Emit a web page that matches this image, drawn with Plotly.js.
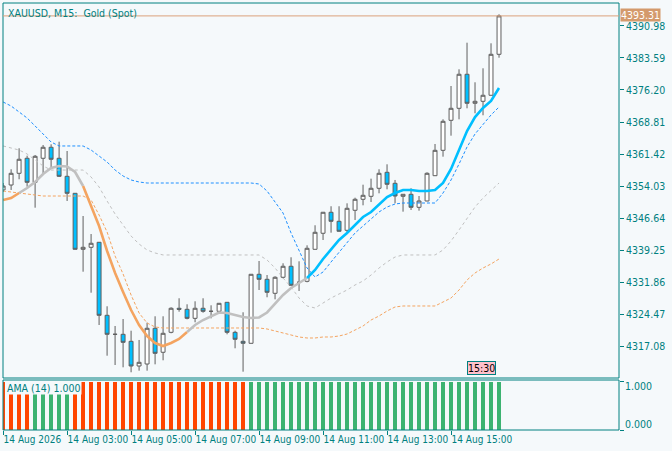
<!DOCTYPE html>
<html>
<head>
<meta charset="utf-8">
<script src="https://cdn.plot.ly/plotly-3.0.1.min.js"></script>
<style>
  html, body { margin: 0; padding: 0; background: #f5f9fb; }
  #chart { width: 672px; height: 451px; }
</style>
</head>
<body>
<div id="chart"></div>
<script>
// XAUUSD M15 bars, 14 Aug 2026 from 01:00
var firstBarMinutes = 60;   // 01:00
var barMinutes = 15;

var openPrices = [
	4353.11, 4354.26, 4356.96, 4360.43, 4354.88, 4360.43, 4362.97, 4360.43, 4356.27, 4352.34,
	4339.41, 4339.87, 4341.03, 4324.17, 4319.78, 4319.78, 4318.16, 4312.46, 4312.92, 4321.17,
	4315.63, 4320.24, 4325.79, 4325.55, 4323.47, 4325.79, 4325.09, 4325.09, 4327.17, 4320.24,
	4318.16, 4317.70, 4333.64, 4332.48, 4329.25, 4332.95, 4335.49, 4331.79, 4332.02, 4339.41,
	4343.11, 4347.96, 4345.88, 4343.80, 4348.42, 4350.96, 4351.65, 4353.50, 4357.19, 4354.65,
	4351.65, 4352.11, 4349.11, 4350.57, 4356.41, 4362.27, 4369.20, 4371.97, 4379.83, 4373.13,
	4373.59, 4374.98, 4384.44];
var highPrices = [
	4354.72, 4357.89, 4362.74, 4361.03, 4361.19, 4363.50, 4363.66, 4364.26, 4362.11, 4352.41,
	4347.10, 4342.94, 4341.10, 4326.25, 4321.70, 4323.31, 4320.61, 4318.47, 4322.46, 4323.94,
	4323.94, 4326.02, 4328.10, 4326.71, 4327.40, 4328.10, 4326.48, 4327.01, 4327.24, 4320.61,
	4324.87, 4333.71, 4336.71, 4333.47, 4333.18, 4336.18, 4337.57, 4336.64, 4340.33, 4344.96,
	4348.03, 4349.35, 4349.35, 4350.03, 4351.33, 4354.33, 4355.72, 4357.89, 4359.04, 4355.42,
	4352.18, 4353.50, 4351.72, 4357.19, 4363.73, 4369.43, 4377.12, 4380.98, 4387.12, 4377.98,
	4381.21, 4386.98, 4393.68];
var lowPrices = [
	4352.64, 4353.11, 4355.58, 4353.87, 4349.02, 4356.57, 4358.35, 4356.11, 4350.57, 4339.37,
	4334.24, 4329.39, 4321.93, 4314.84, 4312.69, 4312.16, 4311.01, 4311.38, 4311.38, 4312.85,
	4313.78, 4320.01, 4325.00, 4323.24, 4322.55, 4324.77, 4323.47, 4325.05, 4319.78, 4316.55,
	4311.15, 4317.66, 4330.01, 4328.33, 4327.86, 4332.71, 4331.05, 4329.78, 4331.79, 4339.37,
	4341.56, 4343.25, 4343.52, 4343.11, 4346.18, 4349.57, 4350.33, 4352.34, 4353.27, 4350.03,
	4348.10, 4348.49, 4348.33, 4350.50, 4356.34, 4360.80, 4365.65, 4369.43, 4371.97, 4370.82,
	4370.36, 4374.93, 4383.66];
var closePrices = [
	4354.03, 4356.96, 4360.20, 4354.88, 4360.89, 4362.97, 4360.20, 4356.27, 4352.34, 4339.41,
	4339.87, 4340.80, 4324.17, 4319.78, 4319.78, 4317.93, 4312.46, 4313.31, 4321.17, 4315.39,
	4320.01, 4325.79, 4325.55, 4323.47, 4325.79, 4325.09, 4325.09, 4326.94, 4320.24, 4318.63,
	4317.70, 4333.64, 4332.48, 4329.48, 4332.95, 4335.49, 4331.10, 4331.79, 4339.64, 4343.34,
	4347.96, 4345.88, 4343.57, 4348.88, 4350.96, 4351.88, 4353.50, 4356.96, 4354.42, 4351.72,
	4352.11, 4349.11, 4350.57, 4356.96, 4362.27, 4368.97, 4371.97, 4379.83, 4373.13, 4373.59,
	4374.98, 4384.44, 4393.31];

// adaptive moving average and its three envelope lines
var amaLine = [
	4350.80, 4351.26, 4352.41, 4353.57, 4354.95, 4356.80, 4358.19, 4358.65, 4358.53, 4357.26,
	4354.03, 4349.41, 4344.79, 4339.02, 4333.94, 4329.55, 4325.39, 4321.93, 4319.39, 4317.77,
	4317.08, 4317.77, 4318.70, 4320.31, 4321.93, 4323.08, 4324.01, 4324.82, 4324.70, 4324.24,
	4323.78, 4323.55, 4323.67, 4324.82, 4326.78, 4328.86, 4330.47, 4331.63, 4332.78, 4334.63,
	4337.17, 4339.48, 4341.56, 4343.18, 4345.02, 4346.87, 4348.03, 4349.87, 4351.49, 4352.41,
	4353.11, 4353.11, 4352.87, 4352.87, 4353.11, 4354.72, 4357.96, 4362.34, 4366.73, 4369.96,
	4372.04, 4373.66, 4376.66];
// -1 falling, 0 flat, 1 rising (colour of the segment to the next bar)
var amaTrend = [
	-1, -1, 0, 0, 0, 0, 0, 0, 0, 0,
	-1, -1, -1, -1, -1, -1, -1, -1, -1, -1,
	-1, -1, -1, 0, 0, 0, 0, 0, 0, 0,
	0, 0, 0, 0, 0, 0, 0, 0, 1, 1,
	1, 1, 1, 1, 1, 1, 1, 1, 1, 1,
	1, 1, 1, 1, 1, 1, 1, 1, 1, 1,
	1, 1, 1];
var blueBand = [
	4373.43, 4372.50, 4371.12, 4369.73, 4367.89, 4366.04, 4364.19, 4363.27, 4363.27, 4363.27,
	4363.27, 4362.34, 4360.96, 4359.57, 4357.72, 4356.34, 4355.42, 4354.95, 4354.72, 4354.72,
	4354.72, 4354.72, 4354.72, 4354.72, 4354.72, 4354.72, 4354.72, 4354.72, 4354.72, 4354.72,
	4354.72, 4354.72, 4354.49, 4352.87, 4350.33, 4347.79, 4343.18, 4339.02, 4335.09, 4333.01,
	4334.17, 4336.48, 4338.79, 4341.10, 4343.18, 4344.79, 4346.41, 4348.03, 4349.18, 4349.87,
	4350.10, 4350.10, 4350.10, 4350.10, 4350.10, 4352.41, 4355.42, 4359.11, 4363.04, 4366.04,
	4368.35, 4370.43, 4372.27];
var greyBand = [
	4363.27, 4362.80, 4362.34, 4361.42, 4360.03, 4358.65, 4357.72, 4357.72, 4357.72, 4357.72,
	4357.72, 4356.11, 4353.80, 4350.57, 4347.56, 4345.02, 4342.48, 4340.63, 4339.25, 4338.56,
	4338.10, 4338.10, 4338.10, 4338.10, 4338.10, 4338.10, 4338.10, 4338.10, 4338.10, 4338.10,
	4338.10, 4338.10, 4338.10, 4336.94, 4335.09, 4332.78, 4330.70, 4328.16, 4326.32, 4325.85,
	4327.01, 4328.16, 4329.09, 4330.01, 4331.17, 4332.09, 4333.47, 4335.09, 4336.48, 4337.63,
	4338.10, 4338.10, 4338.10, 4338.10, 4338.10, 4339.25, 4341.33, 4343.87, 4346.64, 4349.18,
	4351.26, 4353.11, 4354.72];
var orangeBand = [
	4352.87, 4352.64, 4352.41, 4352.18, 4351.95, 4351.72, 4351.72, 4351.72, 4351.72, 4351.72,
	4351.72, 4350.80, 4347.33, 4343.41, 4337.86, 4333.71, 4328.86, 4324.70, 4322.39, 4321.47,
	4321.24, 4321.24, 4321.24, 4321.24, 4321.24, 4321.24, 4321.24, 4321.24, 4321.24, 4321.24,
	4321.24, 4321.24, 4321.24, 4321.01, 4320.54, 4320.08, 4319.62, 4319.16, 4318.93, 4318.93,
	4319.16, 4319.16, 4319.39, 4319.85, 4320.77, 4321.70, 4323.08, 4324.01, 4325.16, 4326.09,
	4326.32, 4326.32, 4326.32, 4326.32, 4326.32, 4327.24, 4328.16, 4330.01, 4332.32, 4333.94,
	4335.09, 4336.02, 4337.17];

// lower window: AMA (14) histogram
var amaHist = [
	1, 1, 1, 1, 1, 1, 1, 1, 1, 1,
	1, 1, 1, 1, 1, 1, 1, 1, 1, 1,
	1, 1, 1, 1, 1, 1, 1, 1, 1, 1,
	1, 1, 1, 1, 1, 1, 1, 1, 1, 1,
	1, 1, 1, 1, 1, 1, 1, 1, 1, 1,
	1, 1, 1, 1, 1, 1, 1, 1, 1, 1,
	1, 1, 1];
var amaSignal = [
	-1, -1, -1, -1, 1, 1, 1, 1, 1, -1,
	-1, -1, -1, -1, -1, -1, -1, -1, -1, -1,
	-1, -1, -1, -1, -1, -1, -1, -1, -1, -1,
	-1, 1, 1, 1, 1, 1, 1, 1, 1, 1,
	1, 1, 1, 1, 1, 1, 1, 1, 1, 1,
	1, 1, 1, 1, 1, 1, 1, 1, 1, 1,
	1, 1, 1];

// axes
var priceTicks = [4317.08, 4324.47, 4331.86, 4339.25, 4346.64, 4354.03, 4361.42, 4368.81, 4376.20, 4383.59, 4390.98];
var timeTicks = ['2026-08-14 01:00', '2026-08-14 03:00', '2026-08-14 05:00', '2026-08-14 07:00',
	'2026-08-14 09:00', '2026-08-14 11:00', '2026-08-14 13:00', '2026-08-14 15:00'];
var timeTickLabels = ['14 Aug 2026', '14 Aug 03:00', '14 Aug 05:00', '14 Aug 07:00',
	'14 Aug 09:00', '14 Aug 11:00', '14 Aug 13:00', '14 Aug 15:00'];
var cursorTime = '2026-08-14 15:30';


var teal = '#008080';
var bg = '#f5f9fb';
var font = "Tahoma, 'Liberation Sans Narrow', 'DejaVu Sans Condensed', 'Liberation Sans', sans-serif";

function pad(n) {
	return (n < 10 ? '0' : '') + n;
}
function timeAt(minutes) {
	var m = Math.round(minutes * 60);
	var h = Math.floor(m / 3600);
	var mi = Math.floor((m % 3600) / 60);
	var s = m % 60;
	return '2026-08-14 ' + pad(h) + ':' + pad(mi) + ':' + pad(s);
}

var n = closePrices.length;
var times = [];
for (var i = 0; i < n; i++) {
	times.push(timeAt(firstBarMinutes + i * barMinutes));
}

var data = [];

// candles
data.push({
	type: 'candlestick',
	x: times,
	open: openPrices,
	high: highPrices,
	low: lowPrices,
	close: closePrices,
	increasing: {line: {color: '#5f5f5f', width: 1}, fillcolor: '#ffffff'},
	decreasing: {line: {color: '#5f5f5f', width: 1}, fillcolor: '#00bfff'},
	whiskerwidth: 0,
	xaxis: 'x',
	yaxis: 'y',
	hoverinfo: 'skip'
});

// dashed envelope lines
function bandTrace(values, color, dash) {
	return {
		type: 'scatter', mode: 'lines', x: times, y: values,
		line: {color: color, width: 1, dash: dash},
		xaxis: 'x', yaxis: 'y', hoverinfo: 'skip'
	};
}
data.push(bandTrace(blueBand, '#1e90ff', '3px,2px'));
data.push(bandTrace(greyBand, '#c0c0c0', '3px,3px'));
data.push(bandTrace(orangeBand, '#f4a460', '3px,2px'));

// thick AMA line, coloured by trend
var trendColors = {'-1': '#f4a460', '0': '#c0c0c0', '1': '#00bfff'};
var s = 0;
while (s < n - 1) {
	var e = s;
	while (e + 1 < n - 1 && amaTrend[e + 1] === amaTrend[s]) {
		e++;
	}
	data.push({
		type: 'scatter', mode: 'lines',
		x: times.slice(s, e + 2), y: amaLine.slice(s, e + 2),
		line: {color: trendColors[amaTrend[s]], width: 2.6},
		xaxis: 'x', yaxis: 'y', hoverinfo: 'skip'
	});
	s = e + 1;
}

// histogram in the lower window
data.push({
	type: 'bar',
	x: times,
	y: amaHist,
	width: barMinutes * 60 * 1000 * 0.5,
	marker: {color: amaSignal.map(function(v) { return v > 0 ? '#3cb371' : '#ff4500'; }), line: {width: 0}},
	xaxis: 'x', yaxis: 'y2', hoverinfo: 'skip'
});

var mainBottom = 52 / 427;
var subTop = 50 / 427;

var layout = {
	width: 672,
	height: 451,
	margin: {l: 3, r: 53, t: 3, b: 21},
	paper_bgcolor: bg,
	plot_bgcolor: bg,
	showlegend: false,
	font: {family: font, size: 10, color: teal},
	xaxis: {
		type: 'date',
		anchor: 'y2',
		range: [timeAt(firstBarMinutes - 0.2), timeAt(firstBarMinutes + 77 * barMinutes)],
		rangeslider: {visible: false},
		showgrid: false,
		zeroline: false,
		tickmode: 'array',
		tickvals: timeTicks,
		ticktext: timeTickLabels,
		tickangle: 0,
		ticks: 'outside',
		ticklen: 4,
		tickcolor: teal,
		ticklabelposition: 'outside right',
		tickfont: {family: font, size: 10, color: teal}
	},
	yaxis: {
		domain: [mainBottom, 1],
		anchor: 'x',
		side: 'right',
		range: [4309.69, 4396.29],
		showgrid: false,
		zeroline: false,
		tickmode: 'array',
		tickvals: priceTicks,
		ticktext: priceTicks.map(function(v) { return v.toFixed(2); }),
		ticks: 'outside',
		ticklen: 4,
		tickcolor: teal,
		tickfont: {family: font, size: 10.5, color: teal}
	},
	yaxis2: {
		domain: [0, subTop],
		anchor: 'x',
		side: 'right',
		range: [0, 1.04],
		showgrid: false,
		zeroline: false,
		tickmode: 'array',
		tickvals: [0, 1],
		showticklabels: false,
		ticks: 'outside',
		ticklen: 4,
		tickcolor: teal
	},
	bargap: 0,
	shapes: [
		{type: 'rect', xref: 'paper', yref: 'paper', x0: 0, x1: 1, y0: mainBottom, y1: 1,
			line: {color: teal, width: 1}},
		{type: 'rect', xref: 'paper', yref: 'paper', x0: 0, x1: 1, y0: 0, y1: subTop,
			line: {color: teal, width: 1}},
		{type: 'line', xref: 'paper', yref: 'y', x0: 0, x1: 1,
			y0: closePrices[n - 1], y1: closePrices[n - 1],
			line: {color: '#dba27c', width: 1}}
	],
	annotations: [
		{xref: 'paper', yref: 'paper', x: 0, y: 1, xanchor: 'left', yanchor: 'top',
			xshift: 3, yshift: -2, showarrow: false,
			text: 'XAUUSD, M15:\u00a0 Gold (Spot)', font: {family: font, size: 10.5, color: teal}},
		{xref: 'paper', yref: 'y', x: 1, y: closePrices[n - 1], xanchor: 'left', yanchor: 'middle',
			xshift: 1, yshift: 1, showarrow: false, bgcolor: '#d49a6c', borderpad: 0,
			text: closePrices[n - 1].toFixed(2), font: {family: font, size: 10.5, color: '#ffffff'}},
		{xref: 'paper', yref: 'paper', x: 0, y: subTop, xanchor: 'left', yanchor: 'top',
			xshift: 3, yshift: -1, showarrow: false, bgcolor: bg, borderpad: 0,
			text: 'AMA (14) ' + amaHist[n - 1].toFixed(3), font: {family: font, size: 10.5, color: teal}},
		{xref: 'paper', yref: 'y2', x: 1, y: 1, xanchor: 'left', yanchor: 'top',
			xshift: 4, yshift: 4, showarrow: false,
			text: (1).toFixed(3), font: {family: font, size: 10.5, color: teal}},
		{xref: 'paper', yref: 'y2', x: 1, y: 0, xanchor: 'left', yanchor: 'bottom',
			xshift: 4, yshift: -2, showarrow: false,
			text: (0).toFixed(3), font: {family: font, size: 10.5, color: teal}},
		{xref: 'x', yref: 'paper', x: cursorTime, y: mainBottom, xanchor: 'left', yanchor: 'bottom',
			yshift: 3, showarrow: false, bgcolor: '#ffc0cb', bordercolor: teal, borderwidth: 1, borderpad: 0,
			text: '15:30', font: {family: font, size: 10.5, color: '#000000'}}
	]
};

Plotly.newPlot('chart', data, layout, {staticPlot: true, displayModeBar: false});
</script>
</body>
</html>
